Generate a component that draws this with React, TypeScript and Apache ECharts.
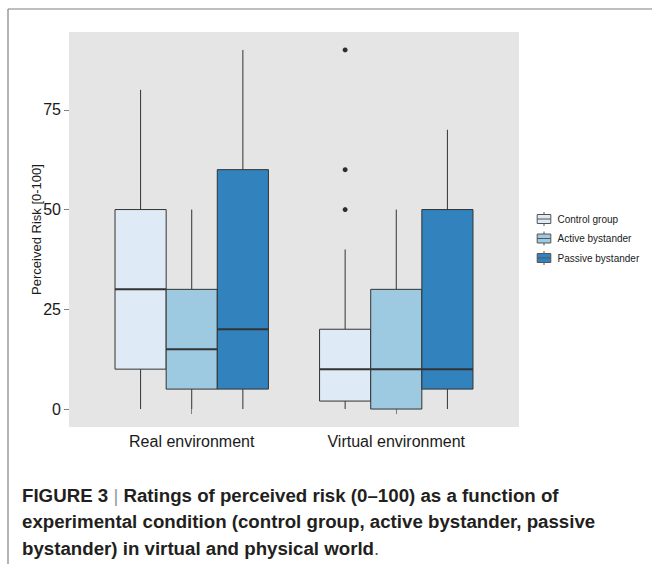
import React, { useEffect, useRef } from "react";
import * as echarts from "echarts";

const categories = ["Real environment", "Virtual environment"];
const groups = ["Control group", "Active bystander", "Passive bystander"];
const groupColors = ["#deebf7", "#9ecae1", "#3182bd"];
// [lowWhisker, q1, median, q3, highWhisker] per category
const controlStats = [
  [0, 10, 30, 50, 80],
  [0, 2, 10, 20, 40],
];
const activeStats = [
  [0, 5, 15, 30, 50],
  [0, 0, 10, 30, 50],
];
const passiveStats = [
  [0, 5, 20, 60, 90],
  [0, 5, 10, 50, 70],
];
// outliers: [categoryIndex, groupIndex, value]
const outliers = [
  [1, 0, 50],
  [1, 0, 60],
  [1, 0, 90],
];
const yTicks = [0, 25, 50, 75];
const captionLines = [
  "{b|FIGURE 3} {bar||} {b|Ratings of perceived risk (0–100) as a function of}",
  "{b|experimental condition (control group, active bystander, passive}",
  "{b|bystander) in virtual and physical world}{dot|.}",
];

const BOX_W = 0.25;
const statsByGroup = [controlStats, activeStats, passiveStats];

export default function App() {
  const ref = useRef<HTMLDivElement>(null);
  useEffect(() => {
    if (!ref.current) return;
    const chart = echarts.init(ref.current, null, { renderer: "svg" });
    const font = "'Liberation Sans', Arial, Helvetica, sans-serif";
    const capSize = 18.7;

    const boxSeries = groups.map((g, gi) => ({
      type: "custom",
      name: g,
      itemStyle: { color: groupColors[gi] },
      encode: { x: 0, y: [1, 2, 3, 4, 5] },
      data: statsByGroup[gi].map((s, ci) => [ci + 1 + (gi - 1) * BOX_W, ...s]),
      renderItem: (params: any, api: any) => {
        const x = api.value(0);
        const pLow = api.coord([x, api.value(1)]);
        const pQ1 = api.coord([x, api.value(2)]);
        const pMed = api.coord([x, api.value(3)]);
        const pQ3 = api.coord([x, api.value(4)]);
        const pHigh = api.coord([x, api.value(5)]);
        const w = api.size([BOX_W, 0])[0];
        const stroke = "#333333";
        return {
          type: "group",
          children: [
            { type: "line", shape: { x1: pHigh[0], y1: pHigh[1], x2: pQ3[0], y2: pQ3[1] }, style: { stroke, lineWidth: 1 } },
            { type: "line", shape: { x1: pLow[0], y1: pLow[1], x2: pQ1[0], y2: pQ1[1] }, style: { stroke, lineWidth: 1 } },
            {
              type: "rect",
              shape: { x: pQ3[0] - w / 2, y: pQ3[1], width: w, height: pQ1[1] - pQ3[1] },
              style: { fill: groupColors[gi], stroke, lineWidth: 1 },
            },
            { type: "line", shape: { x1: pMed[0] - w / 2, y1: pMed[1], x2: pMed[0] + w / 2, y2: pMed[1] }, style: { stroke, lineWidth: 2 } },
          ],
        };
      },
    }));

    const option: any = {
      animation: false,
      backgroundColor: "#ffffff",
      grid: {
        left: 69,
        top: 32,
        right: 133,
        bottom: 137,
        show: true,
        backgroundColor: "#e5e5e5",
        borderWidth: 0,
      },
      xAxis: {
        type: "value",
        min: 0.4,
        max: 2.6,
        splitLine: { show: false },
        axisLine: { show: false },
        axisTick: { show: true, length: 5, lineStyle: { color: "#7f7f7f" }, customValues: [1, 2] },
        axisLabel: {
          customValues: [1, 2],
          formatter: (v: number) => categories[Math.round(v) - 1] ?? "",
          fontSize: 16,
          color: "#1a1a1a",
          fontFamily: font,
          margin: 6,
        },
      },
      yAxis: {
        type: "value",
        min: -4.5,
        max: 94.5,
        name: "Perceived Risk [0-100]",
        nameLocation: "middle",
        nameGap: 26,
        nameMoveOverlap: false,
        nameTextStyle: { fontSize: 13, color: "#1a1a1a", fontFamily: font },
        splitLine: { show: false },
        axisLine: { show: false },
        axisTick: { show: true, length: 5, lineStyle: { color: "#7f7f7f" }, customValues: yTicks },
        axisLabel: { customValues: yTicks, fontSize: 16, color: "#1a1a1a", fontFamily: font, margin: 8 },
      },
      legend: {
        orient: "vertical",
        left: 535,
        top: 211.5,
        padding: 0,
        itemWidth: 17,
        itemHeight: 14,
        itemGap: 4.5,
        data: groups,
        icon: "path://M0,0M17,14M1.7,2.5H15.3V11.5H1.7Z M1.7,7H15.3 M8.5,0V2.5 M8.5,11.5V14",
        itemStyle: { borderColor: "#555555", borderWidth: 1 },
        textStyle: { fontSize: 10, color: "#1a1a1a", fontFamily: font },
        selectedMode: false,
      },
      series: [
        ...boxSeries,
        {
          type: "scatter",
          name: "Outliers",
          symbolSize: 5,
          itemStyle: { color: "#000000" },
          data: outliers.map((o) => [o[0] + 1 + (o[1] - 1) * BOX_W, o[2]]),
        },
      ],
      graphic: [
        { type: "line", shape: { x1: 8, y1: 9, x2: 652, y2: 9 }, style: { stroke: "#808080", lineWidth: 1.2 } },
        { type: "line", shape: { x1: 8, y1: 9, x2: 8, y2: 564 }, style: { stroke: "#808080", lineWidth: 1.2 } },
        ...captionLines.map((t, i) => ({
          type: "text",
          left: 22,
          top: 485.5 + i * 26.5,
          style: {
            text: t,
            fill: "#231f20",
            font: `bold ${capSize}px ${font}`,
            rich: {
              b: { fontWeight: "bold", fontSize: capSize, fontFamily: font, fill: "#231f20" },
              bar: { fontWeight: "normal", fontSize: capSize, fontFamily: font, fill: "#999999" },
              dot: { fontWeight: "normal", fontSize: capSize, fontFamily: font, fill: "#555555" },
            },
          },
        })),
      ],
    };
    chart.setOption(option);
    return () => chart.dispose();
  }, []);
  return (
    <div
      ref={ref}
      style={{ position: "absolute", left: 0, top: 0, width: 652, height: 564, background: "#fff" }}
    />
  );
}
